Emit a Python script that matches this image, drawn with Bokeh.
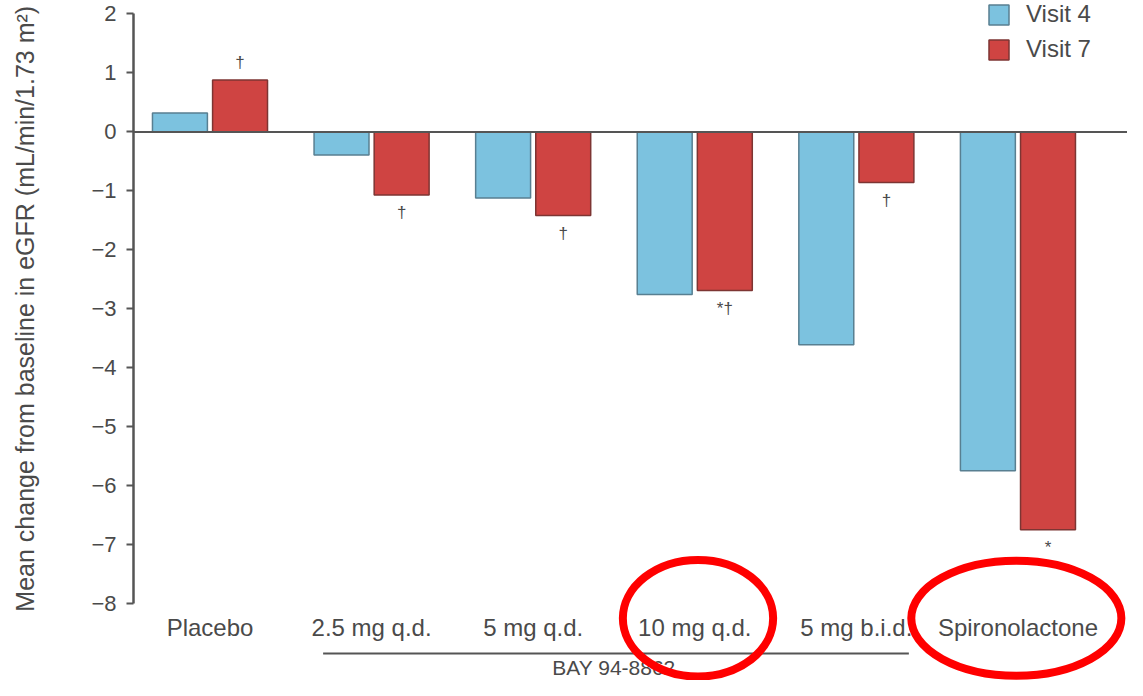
from bokeh.plotting import figure
from bokeh.layouts import row
from bokeh.models import Range1d, FixedTicker, Span, Legend, LegendItem, ColumnDataSource
from bokeh.core.properties import value
from bokeh.embed import file_html
from bokeh.resources import INLINE

# ---- data ----
categories = ["Placebo", "2.5 mg q.d.", "5 mg q.d.", "10 mg q.d.", "5 mg b.i.d.", "Spironolactone"]
visit4 = [0.32, -0.39, -1.12, -2.76, -3.61, -5.75]
visit7 = [0.88, -1.07, -1.42, -2.69, -0.86, -6.75]
visit7_marks = ["†", "†", "†", "*†", "†", "*"]
series_names = ["Visit 4", "Visit 7"]
y_ticks = [-8, -7, -6, -5, -4, -3, -2, -1, 0, 1, 2]
group_label = "BAY 94-8862"
bay_groups = ["2.5 mg q.d.", "5 mg q.d.", "10 mg q.d.", "5 mg b.i.d."]
highlighted = ["10 mg q.d.", "Spironolactone"]
y_title = "Mean change from baseline in eGFR (mL/min/1.73 m²)"

# ---- styles ----
FONT = "Liberation Sans"
C4, C4_LINE = "#7cc2df", "#587f91"
C7, C7_LINE = "#cf4442", "#7d3533"
GREY = "#555555"
TXT = "#4a4a4a"

idx = list(range(len(categories)))
dx, bw = 0.186, 0.34
TITLE_W = 60

src = ColumnDataSource(dict(
    x4=[i - dx for i in idx], x7=[i + dx for i in idx],
    v4=visit4, v7=visit7, marks=visit7_marks,
    moff=[-18 if v > 0 else 18 for v in visit7],
))

yr = Range1d(-9.306, 2.229)

p = figure(width=1127 - TITLE_W, height=680,
           x_range=Range1d(-0.4734, 5.678), y_range=yr,
           x_axis_location=None, output_backend="svg", toolbar_location=None,
           min_border_left=133 - TITLE_W, min_border_right=0, min_border_top=0, min_border_bottom=0)
p.outline_line_color = None
p.xgrid.visible = False
p.ygrid.visible = False
p.background_fill_color = "white"
p.border_fill_color = "white"

r4 = p.vbar(x="x4", top="v4", bottom=0, width=bw, source=src,
            fill_color=C4, line_color=C4_LINE, line_width=1.5)
r7 = p.vbar(x="x7", top="v7", bottom=0, width=bw, source=src,
            fill_color=C7, line_color=C7_LINE, line_width=1.5)

p.add_layout(Span(location=0, dimension="width", line_color=GREY, line_width=2))

# significance marks
p.text(x="x7", y="v7", text="marks", source=src, y_offset="moff",
       text_align="center", text_baseline="middle", text_color=TXT,
       text_font=value(FONT), text_font_size="17px")

# category labels
p.text(x=idx, y=[-8.41] * len(idx), text=categories,
       text_align="center", text_baseline="middle", text_color=TXT,
       text_font=value(FONT), text_font_size="24px")

# BAY group bracket
b0 = categories.index(bay_groups[0])
b1 = categories.index(bay_groups[-1])
p.segment(x0=[b0 - 0.30], x1=[b1 + 0.325], y0=[-8.85], y1=[-8.85],
          line_color=GREY, line_width=2)
p.text(x=[(b0 + b1) / 2], y=[-9.28], text=[group_label],
       text_align="center", text_baseline="bottom", text_color=TXT,
       text_font=value(FONT), text_font_size="21px")

# red highlight ellipses
hx = [categories.index(h) for h in highlighted]
p.ellipse(x=[hx[0] + 0.02, hx[1] - 0.01], y=[-8.25, -8.25], width=[0.93, 1.30], height=[1.98, 1.95],
          fill_color=None, line_color="#ff0000", line_width=8)

# y axis
ax = p.yaxis[0]
ax.ticker = FixedTicker(ticks=y_ticks)
ax.bounds = (-8, 2)
ax.major_label_overrides = {t: str(t).replace("-", "\u2212") for t in y_ticks}
ax.minor_tick_line_color = None
ax.major_tick_in = 0
ax.major_tick_out = 7
ax.axis_line_color = GREY
ax.axis_line_width = 2.5
ax.major_tick_line_color = GREY
ax.major_tick_line_width = 2
ax.major_label_standoff = 10
ax.major_label_text_font = FONT
ax.major_label_text_font_size = "22px"
ax.major_label_text_color = TXT

legend = Legend(items=[LegendItem(label=series_names[0], renderers=[r4]),
                       LegendItem(label=series_names[1], renderers=[r7])],
                location=(853, 616), orientation="vertical",
                glyph_width=25, glyph_height=25, label_standoff=15, spacing=5,
                padding=0, margin=0, border_line_color=None, background_fill_alpha=0,
                label_text_font=FONT, label_text_font_size="24px", label_text_color=TXT,
                label_height=30)
p.add_layout(legend)

# narrow strip carrying the y title, centred on the axis span (-8..2)
tf = figure(width=TITLE_W, height=680, x_range=Range1d(0, TITLE_W), y_range=yr,
            x_axis_location=None, y_axis_location=None,
            output_backend="svg", toolbar_location=None,
            min_border_left=0, min_border_right=0, min_border_top=0, min_border_bottom=0)
tf.outline_line_color = None
tf.xgrid.visible = False
tf.ygrid.visible = False
tf.text(x=[24], y=[(y_ticks[0] + y_ticks[-1]) / 2], text=[y_title], angle=90, angle_units="deg",
        text_align="center", text_baseline="middle", text_color=TXT,
        text_font=value(FONT), text_font_size="25px")

open("out.html", "w").write(file_html(row(tf, p), INLINE))
